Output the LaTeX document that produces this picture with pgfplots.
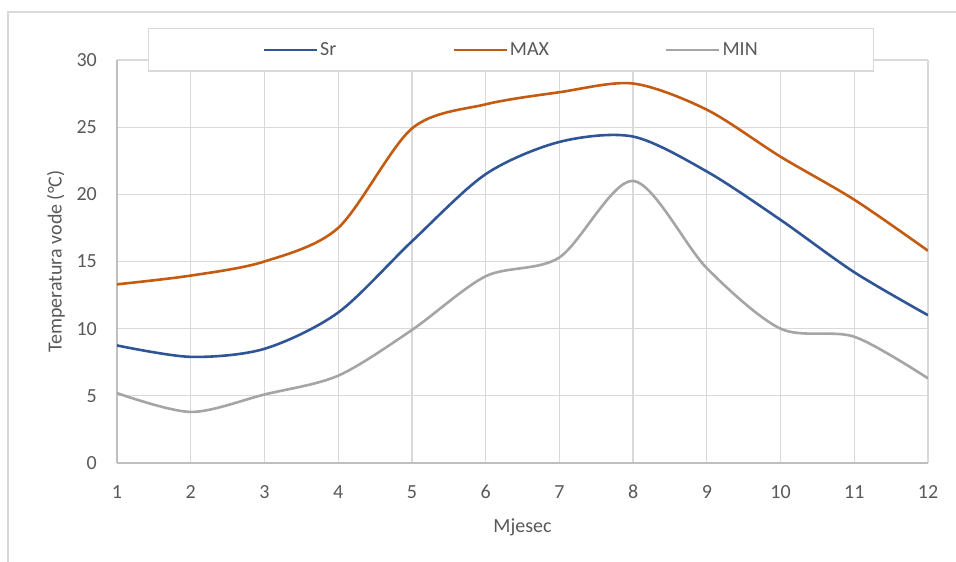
\documentclass[border=0pt]{standalone}
\usepackage{pgfplots}
\pgfplotsset{compat=1.18}
\usepackage{fontspec}
\setmainfont{Carlito}
\definecolor{srblue}{HTML}{2F5597}
\definecolor{maxorange}{HTML}{C55A11}
\definecolor{mingray}{HTML}{A5A5A5}
\definecolor{gridgray}{HTML}{D9D9D9}
\definecolor{axisgray}{HTML}{BFBFBF}
\definecolor{textgray}{HTML}{595959}
\begin{document}
\begin{tikzpicture}[font=\fontsize{20bp}{24bp}\selectfont]
\useasboundingbox (0,0) rectangle (956bp,562bp);
\draw[gridgray, line width=1.3bp] (8bp,0) -- (8bp,550bp) -- (956bp,550bp);
\begin{axis}[
  at={(117bp,99bp)}, anchor=south west,
  scale only axis, width=811bp, height=403bp,
  xmin=1, xmax=12, ymin=0, ymax=30,
  xtick={1,...,12}, ytick={0,5,...,30},
  axis lines*=left,
  axis line style={axisgray, line width=1.3bp},
  grid=major,
  major grid style={gridgray, line width=1.3bp},
  major tick length=0pt,
  /pgf/number format/assume math mode=true,
  tick label style={text=textgray},
  yticklabel style={inner sep=0pt, xshift=-20bp},
  xticklabel style={inner sep=0pt, yshift=-22bp},
  xlabel={Mjesec},
  ylabel={Temperatura vode (°C)},
  label style={text=textgray},
  xlabel style={at={(axis description cs:0.5,-0.159)}, anchor=center},
  ylabel style={at={(axis description cs:-0.0752,0.5)}, anchor=center, rotate=0},
  legend columns=3,
  legend image code/.code={\draw[#1] (0bp,0bp) -- (53bp,0bp);},
  legend style={at={(axis description cs:0.0382,1.0794)}, anchor=north west,
    draw=gridgray, line width=1.3bp, fill=white,
    inner xsep=114bp, inner ysep=12bp,
    nodes={inner sep=2bp, text=textgray},
    /tikz/every even column/.append style={column sep=114bp}},
]
\addplot[srblue, line width=2.6bp, smooth, tension=0.5] coordinates {
(1,8.75)(2,7.9)(3,8.5)(4,11.2)(5,16.5)(6,21.5)(7,23.9)(8,24.3)(9,21.7)(10,18.1)(11,14.2)(12,11.0)};
\addlegendentry{Sr}
\addplot[maxorange, line width=2.6bp, smooth, tension=0.5] coordinates {
(1,13.3)(2,13.95)(3,15.0)(4,17.5)(5,24.9)(6,26.7)(7,27.6)(8,28.25)(9,26.3)(10,22.8)(11,19.6)(12,15.8)};
\addlegendentry{MAX}
\addplot[mingray, line width=2.6bp, smooth, tension=0.5] coordinates {
(1,5.2)(2,3.8)(3,5.1)(4,6.5)(5,9.9)(6,13.9)(7,15.3)(8,21.0)(9,14.5)(10,10.0)(11,9.4)(12,6.3)};
\addlegendentry{MIN}
\end{axis}
\end{tikzpicture}
\end{document}
